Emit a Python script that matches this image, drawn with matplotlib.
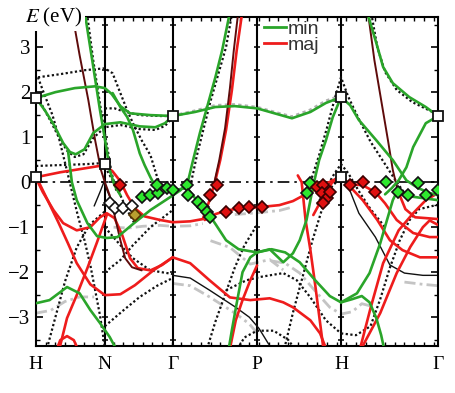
import matplotlib
matplotlib.use('Agg')
import matplotlib.pyplot as plt
from matplotlib.lines import Line2D
from matplotlib.ticker import FixedLocator, FuncFormatter
import numpy as np

plt.rcParams['mathtext.fontset'] = 'stix'

# ---------------- data ----------------
kpoints = [0.0, 0.707, 1.414, 2.280, 3.146, 4.146]
klabels = ['H', 'N', 'Γ', 'P', 'H', 'Γ']
yticks = [-3, -2, -1, 0, 1, 2, 3]
legend_labels = ['min', 'maj']

# minority-spin bands (green), (k, E) pairs
min_1 = [(0, 1.87), (0.20, 2.00), (0.40, 2.09), (0.61, 2.13), (0.71, 2.09), (0.78, 1.96), (0.87, 1.69), (0.97, 1.53), (1.18, 1.49), (1.41, 1.47), (1.64, 1.56), (1.85, 1.67), (2.05, 1.69), (2.28, 1.64), (2.46, 1.53), (2.64, 1.42), (2.83, 1.56), (2.99, 1.76), (3.146, 1.89)]
min_2 = [(0, 1.87), (0.09, 1.60), (0.18, 1.29), (0.28, 0.87), (0.35, 0.67), (0.41, 0.62), (0.50, 0.73), (0.59, 1.09), (0.71, 1.29), (0.87, 1.33), (1.07, 1.24), (1.23, 1.22), (1.33, 1.31), (1.41, 1.47)]
min_3 = [(0.79, 1.98), (0.87, 1.67), (0.94, 1.45), (1.00, 1.16), (1.07, 0.64), (1.12, 0.38), (1.18, 0.11), (1.23, -0.09), (1.28, -0.24)]
min_4 = [(0.33, 0.70), (0.37, 0.00), (0.42, -0.40), (0.53, -0.91), (0.63, -1.20), (0.73, -1.24), (0.84, -1.22), (1.00, -0.93), (1.18, -0.62), (1.35, -0.38), (1.49, -0.18), (1.57, 0.04), (1.62, 0.49), (1.69, 1.09), (1.77, 1.71), (1.85, 2.33), (1.92, 2.93), (1.99, 3.67), (2.01, 3.85)]
min_5 = [(0.49, 3.85), (0.51, 3.67), (0.58, 2.71), (0.66, 1.60), (0.73, 0.71), (0.76, 0.27), (0.81, -0.07), (0.87, -0.29)]
min_6 = [(1.98, -3.80), (2.02, -3.29), (2.07, -2.69), (2.13, -2.00), (2.21, -1.67), (2.28, -1.56), (2.41, -1.49), (2.55, -1.78), (2.65, -1.58), (2.72, -1.29), (2.79, -0.84), (2.83, -0.40), (2.86, -0.07), (2.92, 0.49), (2.99, 0.93), (3.06, 1.44), (3.146, 1.89)]
min_7 = [(1.41, -0.18), (1.56, -0.13), (1.67, -0.44), (1.77, -0.67), (1.86, -0.96), (1.96, -1.29), (2.09, -1.49), (2.28, -1.56), (2.43, -1.49), (2.57, -1.56), (2.72, -1.78), (2.88, -2.18), (3.03, -2.53), (3.146, -2.67)]
min_8 = [(0, -2.69), (0.14, -2.62), (0.32, -2.33), (0.45, -2.47), (0.56, -2.84), (0.66, -3.13), (0.76, -3.44), (0.85, -3.80)]
min_9 = [(3.146, -2.67), (3.26, -2.60), (3.36, -2.53), (3.44, -2.67), (3.51, -3.02), (3.56, -3.40), (3.60, -3.80)]
min_10 = [(3.146, -2.67), (3.31, -2.47), (3.44, -2.02), (3.55, -1.36), (3.62, -0.84), (3.68, -0.40), (3.72, -0.22), (3.84, -0.31), (4.01, -0.36), (4.146, -0.40)]
min_11 = [(3.146, 1.89), (3.24, 1.71), (3.33, 1.38), (3.51, 0.93), (3.68, 0.49), (3.82, 0.04), (3.94, -0.13), (4.06, -0.24), (4.146, -0.29)]
min_12 = [(4.146, 1.47), (4.02, 1.31), (3.89, 0.78), (3.82, 0.33), (3.74, 0.04), (3.67, -0.13), (3.60, -0.27)]
min_13 = [(3.40, 3.85), (3.43, 3.67), (3.51, 3.09), (3.58, 2.56), (3.68, 2.20), (3.85, 1.89), (4.02, 1.67), (4.146, 1.47)]

# majority-spin bands (red)
maj_1 = [(0, 0.11), (0.25, 0.22), (0.51, 0.31), (0.71, 0.38), (0.79, 0.24), (0.87, 0.02), (0.94, -0.29), (1.02, -0.58), (1.12, -0.76), (1.28, -0.84), (1.41, -0.89), (1.59, -0.87), (1.72, -0.82), (1.79, -0.40), (1.85, 0.04), (1.90, 0.49), (1.96, 1.16), (2.02, 2.04), (2.07, 2.93), (2.12, 3.67), (2.13, 3.85)]
maj_2 = [(0, 0.09), (0.07, -0.22), (0.18, -0.62), (0.28, -0.91), (0.42, -1.07), (0.56, -1.00), (0.66, -0.78), (0.73, -0.69), (0.81, -0.80), (0.89, -1.18), (0.97, -1.69), (1.05, -1.91), (1.18, -1.96), (1.30, -1.84), (1.41, -1.67)]
maj_3 = [(0.02, 0.04), (0.12, -0.40), (0.23, -0.89), (0.33, -1.36), (0.42, -1.80), (0.56, -2.27), (0.71, -2.51), (0.87, -2.49), (1.02, -2.29), (1.21, -1.96), (1.41, -1.67)]
maj_4 = [(1.41, -1.67), (1.59, -1.80), (1.79, -2.18), (2.00, -2.56), (2.21, -2.62), (2.41, -2.58), (2.55, -2.67), (2.65, -2.78), (2.83, -3.07), (2.93, -3.36), (3.01, -3.80)]
maj_5 = [(1.74, -0.84), (1.85, -0.71), (1.95, -0.64), (2.09, -0.58), (2.28, -0.56), (2.51, -0.51), (2.65, -0.42), (2.78, -0.27), (2.88, -0.16), (2.96, -0.07), (3.06, 0.04), (3.146, 0.11)]
maj_6 = [(2.86, -0.73), (2.92, -0.49), (2.98, -0.31), (3.05, -0.02), (3.146, 0.20)]
maj_7 = [(3.146, 0.11), (3.37, -0.40), (3.52, -0.84), (3.65, -1.29), (3.78, -1.51), (3.96, -1.67), (4.146, -1.67)]
maj_8 = [(3.146, 0.11), (3.24, -0.04), (3.37, -0.07), (3.50, -0.22), (3.60, -0.47), (3.72, -0.84), (3.89, -1.13), (4.06, -1.22), (4.146, -1.22)]
maj_9 = [(3.73, -0.18), (3.81, -0.60), (3.91, -0.78), (4.03, -0.80), (4.146, -0.82)]
maj_10 = [(3.33, -3.80), (3.45, -2.80), (3.58, -1.80), (3.74, -1.07), (3.89, -0.69), (4.02, -0.40), (4.146, -0.24)]
maj_11 = [(3.33, -3.80), (3.55, -2.91), (3.72, -2.02), (3.86, -1.44), (3.99, -1.00), (4.06, -0.85), (4.146, -0.95)]
maj_12 = [(0.23, -3.80), (0.32, -3.02), (0.42, -2.51), (0.53, -1.91), (0.63, -1.33), (0.73, -0.73)]
maj_13 = [(0.20, -3.80), (0.25, -3.51), (0.32, -3.42), (0.39, -3.51), (0.45, -3.80)]
maj_14 = [(1.99, -3.80), (2.06, -3.07), (2.13, -2.62), (2.21, -2.18), (2.28, -1.85)]
maj_15 = [(2.70, 0.15), (2.74, 0.00), (2.78, -0.84), (2.83, -1.51), (2.88, -2.29), (2.92, -2.96), (2.97, -3.80)]

# dark red bands
dark_1 = [(0.36, 3.85), (0.38, 3.67), (0.45, 2.82), (0.54, 1.82), (0.61, 0.93), (0.67, 0.27), (0.71, 0.00), (0.76, -0.29), (0.81, -0.73), (0.87, -1.29), (0.92, -1.69), (0.99, -1.89), (1.09, -1.96)]
dark_2 = [(1.84, 0.00), (1.89, 0.49), (1.95, 1.20), (2.00, 2.09), (2.04, 2.93), (2.08, 3.67), (2.09, 3.85)]
dark_3 = [(3.42, 3.85), (3.43, 3.67), (3.49, 2.71), (3.56, 1.82), (3.63, 0.93), (3.68, 0.27), (3.73, -0.18)]

# reference bands (black dotted)
ref_1 = [(0.02, 2.33), (0.25, 2.40), (0.51, 2.49), (0.71, 2.53), (0.79, 2.42), (0.87, 1.98), (0.94, 1.60), (1.00, 1.31), (1.09, 0.93), (1.18, 0.60), (1.25, 0.11), (1.31, -0.18)]
ref_2 = [(0.02, 2.33), (0.09, 1.93), (0.17, 1.49), (0.23, 1.04), (0.28, 0.60), (0.33, 0.16), (0.38, -0.29), (0.43, -0.73), (0.50, -1.29), (0.56, -1.84), (0.61, -2.40), (0.66, -2.96), (0.72, -3.80)]
ref_3 = [(0.71, 1.64), (0.81, 1.64), (0.92, 1.56), (1.07, 1.49), (1.28, 1.47), (1.41, 1.47)]
ref_4 = [(0.04, 1.80), (0.14, 1.40), (0.24, 0.98), (0.32, 0.70), (0.40, 0.56), (0.49, 0.62), (0.59, 0.98), (0.71, 1.22), (0.87, 1.27), (1.07, 1.18), (1.23, 1.16), (1.33, 1.25), (1.41, 1.44)]
ref_5 = [(0, 0.36), (0.25, 0.38), (0.51, 0.40), (0.66, 0.42), (0.73, 0.27), (0.79, 0.04), (0.87, -0.29), (0.94, -0.62), (1.02, -0.93)]
ref_6 = [(0.71, -1.00), (0.87, -1.40), (1.00, -1.69), (1.18, -1.96), (1.41, -2.04)]
ref_7 = [(0.71, -2.00), (0.87, -1.73), (1.00, -1.40), (1.18, -1.00), (1.41, -0.62)]
ref_8 = [(0.71, -3.20), (0.90, -2.85), (1.07, -2.55), (1.25, -2.30), (1.41, -2.13)]
ref_9 = [(1.96, -2.40), (2.17, -2.18), (2.30, -2.11), (2.55, -2.02), (2.69, -2.18), (2.83, -2.56), (2.99, -3.07), (3.146, -3.36)]
ref_10 = [(3.146, -3.36), (3.30, -3.40), (3.45, -3.20), (3.55, -2.60), (3.65, -1.90), (3.75, -1.30), (3.85, -0.85), (3.95, -0.60), (4.146, -0.50)]
ref_11 = [(2.83, 0.00), (2.92, 0.60), (3.00, 1.20), (3.08, 1.85), (3.146, 2.33), (3.22, 1.90), (3.33, 1.40), (3.45, 0.90), (3.60, 0.40), (3.72, 0.00), (3.82, -0.30)]
ref_12 = [(2.90, -0.50), (3.00, -0.10), (3.08, 0.20), (3.146, 0.40), (3.22, 0.20), (3.33, -0.20), (3.45, -0.60), (3.60, -1.00)]
ref_13 = [(3.45, 3.85), (3.52, 3.00), (3.60, 2.45), (3.72, 2.05), (3.88, 1.78), (4.146, 1.50)]
ref_14 = [(1.60, 0.00), (1.66, 0.60), (1.73, 1.20), (1.80, 1.80), (1.88, 2.40), (1.96, 3.00), (2.03, 3.85)]
ref_15 = [(0.52, 3.85), (0.59, 2.71), (0.67, 1.60), (0.74, 0.71), (0.78, 0.20), (0.83, -0.20)]
ref_16 = [(2.55, -3.80), (2.65, -2.90), (2.75, -2.10), (2.85, -1.30), (2.95, -0.60), (3.05, -0.10), (3.146, 0.11)]
ref_17 = [(1.75, -3.80), (1.85, -3.10), (1.95, -2.50), (2.05, -1.90), (2.15, -1.40), (2.28, -0.95)]
ref_18 = [(2.05, -3.80), (2.15, -3.45), (2.28, -3.30), (2.45, -3.30), (2.60, -3.50), (2.70, -3.80)]
ref_19 = [(0.10, -3.80), (0.20, -3.00), (0.30, -2.20), (0.42, -1.45), (0.55, -0.95), (0.71, -0.65)]
ref_20 = [(1.41, 1.47), (1.64, 1.58), (1.85, 1.70), (2.05, 1.72), (2.28, 1.66), (2.46, 1.55), (2.64, 1.45), (2.83, 1.60), (2.99, 1.80), (3.146, 1.92)]

# black solid thin bands
solid_1 = [(0.60, -0.53), (0.66, -0.22), (0.70, 0.00), (0.74, -0.22), (0.80, -0.53)]
solid_2 = [(1.41, -2.07), (1.59, -2.13), (1.79, -2.40), (2.06, -2.78), (2.20, -3.00), (2.30, -3.25), (2.40, -3.60)]
solid_3 = [(3.24, -0.20), (3.33, -0.69), (3.50, -1.22), (3.65, -1.84), (3.80, -2.02), (3.99, -2.07), (4.146, -2.07)]

# grey bands
alt_1 = [(1.41, -2.25), (1.59, -2.30), (1.79, -2.55), (2.06, -2.92), (2.20, -3.15), (2.30, -3.40)]
alt_2 = [(2.43, -1.75), (2.57, -1.80), (2.72, -2.02), (2.88, -2.42), (3.03, -2.78), (3.146, -2.93), (3.26, -2.88), (3.36, -2.70), (3.45, -2.75)]
alt_3 = [(3.80, -2.22), (3.99, -2.27), (4.146, -2.30)]
alt_4 = [(0.0, -2.91), (0.15, -2.85), (0.30, -2.65), (0.45, -2.55), (0.60, -2.55)]
alt_5 = [(0.80, -1.00), (0.95, -1.02), (1.10, -0.98), (1.28, -0.96), (1.41, -0.98), (1.59, -0.97), (1.72, -0.92)]
alt_6 = [(2.05, -0.72), (2.28, -0.68), (2.51, -0.63), (2.65, -0.55)]
alt_7 = [(1.80, -1.30), (2.00, -1.45), (2.21, -1.82), (2.41, -1.72), (2.55, -1.95)]

# markers
square_k = [0.0, 0.0, 0.707, 1.414, 3.146, 3.146, 4.146]
square_E = [1.87, 0.11, 0.40, 1.47, 1.89, 0.11, 1.47]
green_dia_k = [1.09, 1.18, 1.26, 1.35, 1.25, 1.41, 1.56, 1.57, 1.67, 1.72, 1.76, 1.79, 2.79, 2.83, 3.61, 3.73, 3.84, 3.94, 4.02, 4.146]
green_dia_E = [-0.33, -0.29, -0.24, -0.13, -0.07, -0.18, -0.07, -0.29, -0.44, -0.56, -0.67, -0.78, -0.24, -0.02, 0.00, -0.22, -0.29, -0.02, -0.29, -0.18]
red_dia_k = [0.87, 1.79, 1.87, 1.96, 2.09, 2.20, 2.33, 2.90, 2.96, 2.95, 3.00, 2.96, 3.03, 3.24, 3.37, 3.50]
red_dia_E = [-0.07, -0.29, -0.07, -0.67, -0.58, -0.56, -0.56, -0.11, -0.07, -0.24, -0.36, -0.47, -0.22, -0.07, 0.00, -0.22]
white_dia_k = [0.76, 0.81, 0.90, 0.99]
white_dia_E = [-0.47, -0.58, -0.58, -0.53]
olive_dia_k = [1.02]
olive_dia_E = [-0.73]

# ---------------- plot ----------------
GREEN = '#2aa52a'
RED = '#ee1c1c'
DARKRED = '#5e0b0b'

fig = plt.figure(figsize=(4.56, 3.93), dpi=100)
ax = fig.add_axes([36/456, 1-346/393, 402/456, 329/393])
ax.set_xlim(kpoints[0], kpoints[-1])
ax.set_ylim(-3.64, 3.67)


def draw(band, **kw):
    ks, es = zip(*band)
    ax.plot(ks, es, solid_capstyle='round', **kw)


for b in [alt_1, alt_2, alt_3, alt_4, alt_5, alt_6, alt_7]:
    draw(b, color='#c4c4c4', lw=2.0, ls=(0, (4, 1.5, 1, 1.5)), zorder=1)
draw(ref_20, color='#b0b0b0', lw=2.4, ls=(0, (1, 1)), zorder=1)
for b in [ref_1, ref_2, ref_3, ref_4, ref_5, ref_6, ref_7, ref_8, ref_9, ref_10,
          ref_11, ref_12, ref_13, ref_14, ref_15, ref_16, ref_17, ref_18, ref_19]:
    draw(b, color='#111111', lw=1.6, ls=(0, (1, 1.1)), zorder=2)
for b in [solid_1, solid_2, solid_3]:
    draw(b, color='#111111', lw=1.0, zorder=2)

# high-symmetry lines with little ticks
for kp in kpoints[1:-1]:
    ax.axvline(kp, color='k', lw=1.5, zorder=1.5)
    tick_E = np.arange(-3.5, 3.6, 0.5)
    ax.plot([kp]*len(tick_E), tick_E, ls='none', marker='_', ms=5, mew=1.1, color='k', zorder=1.5)

ax.axhline(0, color='k', lw=1.2, ls=(0, (7, 3, 1.5, 3)), zorder=2.5)

for b in [maj_1, maj_2, maj_3, maj_4, maj_5, maj_6, maj_7, maj_8, maj_9, maj_10,
          maj_11, maj_12, maj_13, maj_14, maj_15]:
    draw(b, color=RED, lw=1.9, zorder=3)
for b in [dark_1, dark_2, dark_3]:
    draw(b, color=DARKRED, lw=1.4, zorder=3.5)
for b in [min_1, min_2, min_3, min_4, min_5, min_6, min_7, min_8, min_9, min_10,
          min_11, min_12, min_13]:
    draw(b, color=GREEN, lw=1.9, zorder=4)

ax.plot(green_dia_k, green_dia_E, ls='none', marker='D', ms=6.5, mfc='#2ee82e', mec='#111111', mew=1.2, zorder=6)
ax.plot(red_dia_k, red_dia_E, ls='none', marker='D', ms=6.5, mfc='#e01010', mec='#3a0000', mew=1.2, zorder=6)
ax.plot(white_dia_k, white_dia_E, ls='none', marker='D', ms=6.5, mfc='white', mec='#111111', mew=1.2, zorder=6)
ax.plot(olive_dia_k, olive_dia_E, ls='none', marker='D', ms=6.5, mfc='#b8a030', mec='#553300', mew=1.2, zorder=6)
ax.plot(square_k, square_E, ls='none', marker='s', ms=7, mfc='white', mec='#111111', mew=1.3, zorder=7, clip_on=False)

# axes styling
for s in ax.spines.values():
    s.set_linewidth(1.5)
ax.set_xticks(kpoints)
ax.set_xticklabels(klabels, fontfamily='Liberation Serif', fontsize=14)
ax.tick_params(axis='x', which='major', length=0, pad=7)
ax.xaxis.set_minor_locator(FixedLocator(np.arange(0.1, 4.146, 0.1)))
ax.tick_params(axis='x', which='minor', direction='in', length=3, width=1, top=True, bottom=True)
ax.set_yticks(yticks)
ax.yaxis.set_major_formatter(FuncFormatter(lambda v, p: ('%d' % v).replace('-', '\u2212')))
for lab in ax.get_yticklabels():
    lab.set_fontfamily('Liberation Serif')
ax.tick_params(axis='y', which='major', direction='in', length=5, width=1.2, left=True, right=True, labelsize=15, pad=4)
ax.yaxis.set_minor_locator(FixedLocator(np.arange(-3.5, 3.6, 0.5)))
ax.tick_params(axis='y', which='minor', direction='in', length=3, width=1, left=True, right=True)

ax.text(0.045, 1.0, '$E$ (eV)', transform=ax.transAxes, ha='center', va='center',
        fontsize=15, family='Liberation Serif', zorder=10,
        bbox=dict(fc='white', ec='none', pad=1.5))

handles = [Line2D([], [], color=GREEN, lw=2), Line2D([], [], color=RED, lw=2)]
ax.legend(handles, legend_labels, loc='upper left', bbox_to_anchor=(0.562, 0.995),
          frameon=False, handlelength=1.15, handletextpad=0.1, labelspacing=-0.1,
          borderaxespad=0, borderpad=0.1, labelcolor='#333333',
          prop={'family': 'Liberation Sans', 'size': 14})

fig.savefig('out.png', dpi=100)
